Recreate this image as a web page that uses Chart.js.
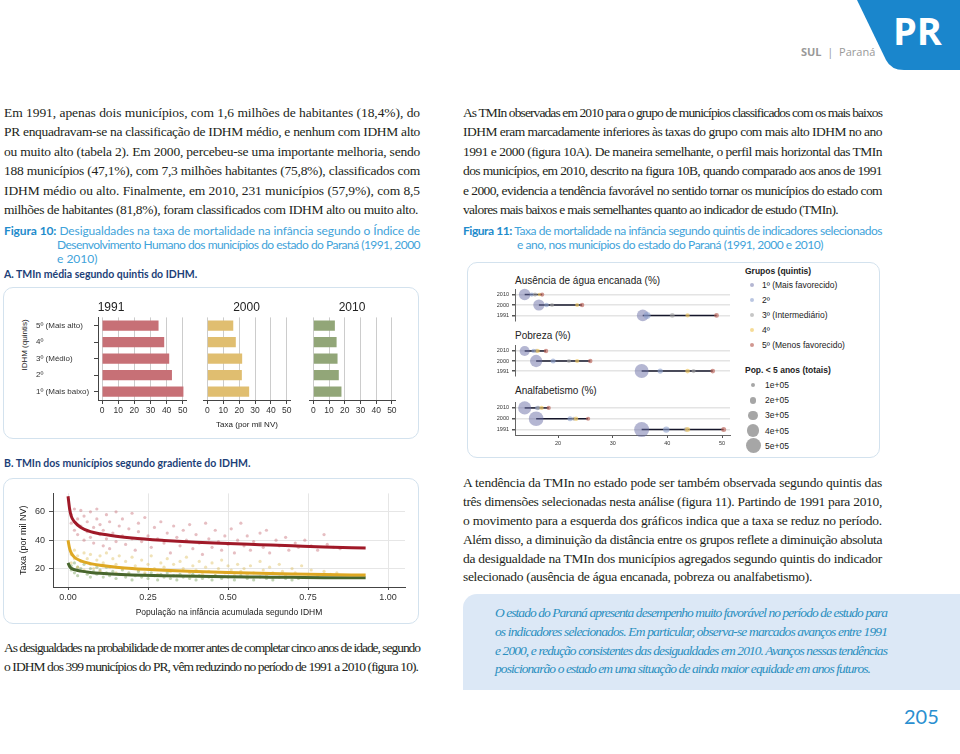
<!DOCTYPE html>
<html lang="pt">
<head>
<meta charset="utf-8">
<title>PR - TMIn</title>
<script src="https://cdn.jsdelivr.net/npm/chart.js@4.4.1/dist/chart.umd.min.js"></script>
<style>
  body { margin:0; width:960px; height:754px; position:relative; overflow:hidden; background:#fff; }
  .abs { position:absolute; }
  .ln { position:absolute; white-space:nowrap; text-align:justify; text-align-last:justify; line-height:18px;
        font-family:'Liberation Serif','DejaVu Serif',serif; font-size:13.5px; color:#231f20; }
  .ln.left { text-align-last:left; }
  .cap { font-family:Lato,'Noto Sans',sans-serif; font-size:12px; color:#3fa3da; line-height:14px; }
  .cap b { color:#1f8ccc; }
  .it { font-style:italic; color:#2a8fc0; }
  .sub { position:absolute; font-family:Lato,sans-serif; font-weight:bold; font-size:10.5px; color:#1d3f78; white-space:nowrap; }
  .box { position:absolute; border:1.5px solid #d3e2ee; border-radius:10px; box-sizing:border-box; }
  .lbl { position:absolute; font-family:'Liberation Sans',Arial,sans-serif; color:#222; white-space:nowrap; line-height:12px; }
  canvas { position:absolute; }
  .dot { position:absolute; border-radius:50%; }
</style>
</head>
<body>

<!-- cabeçalho -->
<svg class="abs" style="left:0;top:0" width="960" height="80">
  <path d="M857,0 L960,0 L960,70 L904,70 Q891,70 886,60 Z" fill="#1a86cc"/>
</svg>
<div class="abs" style="left:893px;top:11px;font-family:'Open Sans',sans-serif;font-weight:bold;font-size:38px;line-height:38px;color:#fff">PR</div>
<div class="abs" style="left:801px;top:45px;font-family:'Open Sans',sans-serif;font-size:11px;line-height:14px;color:#999"><b>SUL</b> &nbsp;|&nbsp; Paraná</div>

<!-- texto esquerda -->
<div class="ln" style="left:4px;top:104px;width:416px">Em 1991, apenas dois municípios, com 1,6 milhões de habitantes (18,4%), do</div>
<div class="ln" style="left:4px;top:123px;width:416px">PR enquadravam-se na classificação de IDHM médio, e nenhum com IDHM alto</div>
<div class="ln" style="left:4px;top:143px;width:416px">ou muito alto (tabela 2). Em 2000, percebeu-se uma importante melhoria, sendo</div>
<div class="ln" style="left:4px;top:162px;width:416px">188 municípios (47,1%), com 7,3 milhões habitantes (75,8%), classificados com</div>
<div class="ln" style="left:4px;top:182px;width:416px">IDHM médio ou alto. Finalmente, em 2010, 231 municípios (57,9%), com 8,5</div>
<div class="ln" style="left:4px;top:201px;width:414px">milhões de habitantes (81,8%), foram classificados com IDHM alto ou muito alto.</div>

<!-- texto direita -->
<div class="ln" style="left:463px;top:104px;width:419px">As TMIn observadas em 2010 para o grupo de municípios classificados com os mais baixos</div>
<div class="ln" style="left:463px;top:123px;width:419px">IDHM eram marcadamente inferiores às taxas do grupo com mais alto IDHM no ano</div>
<div class="ln" style="left:463px;top:143px;width:419px">1991 e 2000 (figura 10A). De maneira semelhante, o perfil mais horizontal das TMIn</div>
<div class="ln" style="left:463px;top:162px;width:419px">dos municípios, em 2010, descrito na figura 10B, quando comparado aos anos de 1991</div>
<div class="ln" style="left:463px;top:182px;width:419px">e 2000, evidencia a tendência favorável no sentido tornar os municípios do estado com</div>
<div class="ln" style="left:463px;top:201px;width:375px">valores mais baixos e mais semelhantes quanto ao indicador de estudo (TMIn).</div>

<!-- legenda figura 10 -->
<div class="ln cap" style="left:4px;top:224px;width:416px"><b>Figura 10:</b> Desigualdades na taxa de mortalidade na infância segundo o Índice de</div>
<div class="ln cap" style="left:57px;top:238px;width:363px">Desenvolvimento Humano dos municípios do estado do Paraná (1991, 2000</div>
<div class="ln cap left" style="left:57px;top:252px;width:60px">e 2010)</div>
<div class="sub" style="left:4px;top:268px">A. TMIn média segundo quintis do IDHM.</div>

<div class="box" style="left:3px;top:287px;width:416px;height:152px"></div>
<div class="lbl" style="left:-5px;top:339px;width:60px;text-align:center;font-size:8px;transform:rotate(-90deg)">IDHM (quintis)</div>
<canvas id="bar1991" width="158" height="124" style="left:36px;top:296px"></canvas>
<canvas id="bar2000" width="95" height="124" style="left:203px;top:296px"></canvas>
<canvas id="bar2010" width="94" height="124" style="left:309px;top:296px"></canvas>
<div class="lbl" style="left:187px;top:419px;width:120px;text-align:center;font-size:8px">Taxa (por mil NV)</div>

<div class="sub" style="left:4px;top:457px">B. TMIn dos municípios segundo gradiente do IDHM.</div>
<div class="box" style="left:3px;top:478px;width:416px;height:146px"></div>
<canvas id="gradiente" width="403" height="138" style="left:10px;top:484px"></canvas>

<!-- texto inferior esquerda -->
<div class="ln" style="left:4px;top:639px;width:416px">As desigualdades na probabilidade de morrer antes de completar cinco anos de idade, segundo</div>
<div class="ln" style="left:4px;top:658px;width:414px">o IDHM dos 399 municípios do PR, vêm reduzindo no período de 1991 a 2010 (figura 10).</div>

<!-- legenda figura 11 -->
<div class="ln cap" style="left:463px;top:224px;width:419px"><b>Figura 11:</b> Taxa de mortalidade na infância segundo quintis de indicadores selecionados</div>
<div class="ln cap" style="left:517px;top:238px;width:306px">e ano, nos municípios do estado do Paraná (1991, 2000 e 2010)</div>

<div class="box" style="left:467px;top:262px;width:413px;height:196px"></div>
<div class="lbl" style="left:515px;top:275px;font-size:10px">Ausência de água encanada (%)</div>
<div class="lbl" style="left:515px;top:330px;font-size:10px">Pobreza (%)</div>
<div class="lbl" style="left:515px;top:385px;font-size:10px">Analfabetismo (%)</div>
<canvas id="agua" width="258" height="44" style="left:480px;top:283px"></canvas>
<canvas id="pobreza" width="258" height="44" style="left:480px;top:339px"></canvas>
<canvas id="analf" width="258" height="56" style="left:480px;top:395px"></canvas>
<div id="legenda11"></div>

<!-- texto inferior direita -->
<div class="ln" style="left:463px;top:474px;width:419px">A tendência da TMIn no estado pode ser também observada segundo quintis das</div>
<div class="ln" style="left:463px;top:493px;width:419px">três dimensões selecionadas nesta análise (figura 11). Partindo de 1991 para 2010,</div>
<div class="ln" style="left:463px;top:512px;width:419px">o movimento para a esquerda dos gráficos indica que a taxa se reduz no período.</div>
<div class="ln" style="left:463px;top:531px;width:419px">Além disso, a diminuição da distância entre os grupos reflete a diminuição absoluta</div>
<div class="ln" style="left:463px;top:550px;width:419px">da desigualdade na TMIn dos municípios agregados segundo quintis do indicador</div>
<div class="ln" style="left:463px;top:568px;width:349px">selecionado (ausência de água encanada, pobreza ou analfabetismo).</div>

<div class="abs" style="left:463px;top:594px;width:497px;height:96px;background:#dce8f6;border-top-left-radius:14px"></div>
<div class="ln it" style="left:495px;top:604px;width:392px">O estado do Paraná apresenta desempenho muito favorável no período de estudo para</div>
<div class="ln it" style="left:495px;top:623px;width:392px">os indicadores selecionados. Em particular, observa-se marcados avanços entre 1991</div>
<div class="ln it" style="left:495px;top:642px;width:392px">e 2000, e redução consistentes das desigualdades em 2010. Avanços nessas tendências</div>
<div class="ln it" style="left:495px;top:660px;width:375px">posicionarão o estado em uma situação de ainda maior equidade em anos futuros.</div>

<div class="abs" style="left:904px;top:704px;font-family:Lato,sans-serif;font-size:20px;line-height:24px;color:#2a8fd0">205</div>

<script>
// ---- Figura 10A: TMIn media segundo quintis do IDHM
var quintis = ['5º (Mais alto)', '4º', '3º (Médio)', '2º', '1º (Mais baixo)'];
var taxa1991 = [35.0, 38.5, 41.6, 43.3, 50.4];
var taxa2000 = [16.3, 17.9, 21.9, 21.7, 26.3];
var taxa2010 = [13.7, 14.8, 15.4, 16.2, 17.9];
var barTicks = [0, 10, 20, 30, 40, 50];

// ---- Figura 10B: municipios (amostra) e curvas ajustadas
var pontos1991 = [[0.01,58],[0.01,52],[0.02,47],[0.02,62],[0.03,44],[0.03,55],[0.04,61],[0.04,50],[0.05,40],[0.05,57],
  [0.06,46],[0.06,53],[0.07,60],[0.07,42],[0.08,49],[0.08,38],[0.09,62],[0.09,55],[0.1,44],[0.1,51],[0.11,36],[0.11,47],
  [0.12,58],[0.12,41],[0.13,53],[0.13,34],[0.14,45],[0.15,60],[0.15,39],[0.16,50],[0.17,43],[0.17,55],[0.18,37],[0.19,48],
  [0.2,59],[0.2,41],[0.21,33],[0.22,52],[0.22,46],[0.23,39],[0.24,56],[0.25,43],[0.26,35],[0.27,49],[0.28,41],[0.29,53],
  [0.3,38],[0.31,45],[0.32,31],[0.33,50],[0.34,42],[0.35,36],[0.36,47],[0.37,40],[0.38,51],[0.39,34],[0.4,44],[0.41,38],
  [0.42,30],[0.43,52],[0.44,41],[0.45,35],[0.46,47],[0.47,39],[0.48,33],[0.49,43],[0.5,37],[0.51,48],[0.52,31],[0.53,40],
  [0.54,52],[0.55,36],[0.56,43],[0.57,33],[0.58,39],[0.6,45],[0.61,35],[0.62,47],[0.63,31],[0.65,40],[0.66,36],[0.68,42],
  [0.69,33],[0.71,38],[0.72,35],[0.74,40],[0.76,36],[0.78,33],[0.8,44],[0.81,37],[0.83,35],[0.85,34]];
var pontos2000 = [[0.01,30],[0.01,24],[0.02,33],[0.02,27],[0.03,21],[0.03,29],[0.04,25],[0.05,31],[0.05,19],[0.06,27],
  [0.07,23],[0.07,30],[0.08,20],[0.09,26],[0.1,29],[0.1,18],[0.11,24],[0.12,31],[0.13,21],[0.14,27],[0.15,17],[0.15,23],
  [0.16,29],[0.17,20],[0.18,25],[0.19,16],[0.2,28],[0.21,22],[0.22,19],[0.23,26],[0.24,17],[0.25,23],[0.26,29],[0.27,20],
  [0.28,16],[0.29,24],[0.3,21],[0.31,27],[0.32,18],[0.33,23],[0.34,15],[0.35,25],[0.36,20],[0.37,28],[0.38,17],[0.39,22],
  [0.4,19],[0.41,25],[0.42,16],[0.43,21],[0.44,18],[0.45,24],[0.46,15],[0.47,20],[0.48,26],[0.49,17],[0.5,22],[0.51,19],
  [0.52,15],[0.53,23],[0.54,18],[0.55,20],[0.56,16],[0.57,22],[0.58,17],[0.6,25],[0.61,19],[0.62,15],[0.63,21],[0.64,17],
  [0.66,23],[0.67,18],[0.68,15],[0.7,20],[0.71,17],[0.73,22],[0.75,16],[0.76,19],[0.78,15],[0.8,18],[0.82,16],[0.84,17]];
var pontos2010 = [[0.01,22],[0.01,19],[0.02,24],[0.02,17],[0.03,21],[0.03,15],[0.04,20],[0.05,18],[0.05,23],[0.06,16],
  [0.07,20],[0.07,14],[0.08,18],[0.09,21],[0.09,16],[0.1,19],[0.11,14],[0.12,17],[0.12,21],[0.13,15],[0.14,18],[0.15,13],
  [0.16,16],[0.17,19],[0.18,14],[0.19,17],[0.2,12],[0.21,15],[0.22,18],[0.23,14],[0.24,16],[0.25,13],[0.26,17],[0.27,15],
  [0.28,12],[0.29,16],[0.3,14],[0.31,17],[0.32,13],[0.33,15],[0.34,12],[0.35,16],[0.36,14],[0.38,13],[0.39,16],[0.4,12],
  [0.41,15],[0.42,13],[0.44,14],[0.45,12],[0.46,15],[0.48,13],[0.5,14],[0.52,12],[0.54,15],[0.56,13],[0.58,12],[0.6,14],
  [0.62,13],[0.64,12],[0.66,14],[0.68,13],[0.7,12],[0.72,13]];
var curva1991 = [[0,71],[0.005,62],[0.01,57],[0.02,53],[0.04,49],[0.07,46],[0.1,44.5],[0.15,42.8],[0.2,41.5],[0.3,39.8],
  [0.4,38.5],[0.5,37.6],[0.6,36.8],[0.7,36],[0.8,35.2],[0.93,34.5]];
var curva2000 = [[0,40],[0.005,34],[0.01,31],[0.02,28],[0.04,25.5],[0.07,23.5],[0.1,22.3],[0.15,21],[0.2,20],[0.3,18.8],
  [0.4,18],[0.5,17.3],[0.6,16.7],[0.7,16.2],[0.8,15.8],[0.93,15.4]];
var curva2010 = [[0,24],[0.005,21.5],[0.01,20.2],[0.02,19.2],[0.04,18.2],[0.07,17.3],[0.1,16.7],[0.15,16],[0.2,15.5],
  [0.3,14.9],[0.4,14.5],[0.5,14.2],[0.6,14],[0.7,13.8],[0.8,13.6],[0.93,13.5]];
var gradTicksX = [0, 0.25, 0.5, 0.75, 1];
var gradTicksY = [20, 40, 60];

// ---- Figura 11: taxa por quintil (linhas: 2010, 2000, 1991; colunas: 1º..5º)
var anos = ['2010', '2000', '1991'];
var aguaTaxa = [[13.9, 15.2, 15.8, 16.6, 17.1], [16.5, 17.9, 18.9, 23.5, 24.4], [35.5, 36.3, 40.9, 43.7, 49.0]];
var pobrezaTaxa = [[13.9, 15.5, 16.0, 16.3, 17.8], [16.0, 19.1, 22.0, 23.5, 25.9], [35.3, 38.7, 44.8, 43.7, 48.3]];
var analfTaxa = [[13.9, 16.2, 16.4, 17.0, 18.3], [16.0, 22.2, 22.9, 23.3, 25.5], [35.3, 39.8, 43.4, 43.7, 50.3]];
var aguaPop = [[3.7e5, 1e5, 1e5, 0.8e5, 1e5], [3.6e5, 1.2e5, 1e5, 0.9e5, 1.1e5], [3.8e5, 2e5, 1.2e5, 1e5, 1.2e5]];
var pobrezaPop = [[3.2e5, 1e5, 1e5, 1e5, 1.1e5], [4e5, 1.3e5, 1e5, 1e5, 1.1e5], [4.6e5, 1.4e5, 1e5, 1.2e5, 1.2e5]];
var analfPop = [[4.3e5, 1.1e5, 1e5, 1e5, 1e5], [4.9e5, 1.3e5, 1e5, 1.1e5, 1e5], [5e5, 1.8e5, 1.1e5, 1.3e5, 1.3e5]];
var grupos = ['1º (Mais favorecido)', '2º', '3º (Intermediário)', '4º', '5º (Menos favorecido)'];
var popLegenda = [1e5, 2e5, 3e5, 4e5, 5e5];
var popLabels = ['1e+05', '2e+05', '3e+05', '4e+05', '5e+05'];
var dotTicks = [20, 30, 40, 50];

var qColors = ['rgba(105,110,165,0.5)', 'rgba(140,160,205,0.6)', 'rgba(160,160,160,0.6)',
               'rgba(240,200,95,0.65)', 'rgba(185,95,85,0.65)'];

// ajusta cada linha justificada a sua largura
function fitLines() {
  var els = document.querySelectorAll('.ln');
  for (var i = 0; i < els.length; i++) {
    var el = els[i];
    el.style.letterSpacing = '';
    var over = el.scrollWidth - el.clientWidth;
    if (over > 0) el.style.letterSpacing = (-(over + 1) / el.textContent.length) + 'px';
  }
}
fitLines();

Chart.defaults.font.family = "'Liberation Sans', Arial, sans-serif";
Chart.defaults.color = '#333';
Chart.defaults.animation = false;
Chart.defaults.plugins.legend.display = false;
Chart.defaults.plugins.tooltip.enabled = false;

function fixTicks(values) {
  return function(scale) {
    scale.ticks = values.map(function(v){ return {value: v}; });
  };
}
function toXY(arr) {
  return arr.map(function(p){ return {x: p[0], y: p[1]}; });
}

function barPanel(id, year, values, color, showY) {
  return new Chart(document.getElementById(id), {
    type: 'bar',
    data: {
      labels: quintis,
      datasets: [{ data: values, backgroundColor: color, borderWidth: 0, barPercentage: 0.62, categoryPercentage: 1 }]
    },
    options: {
      indexAxis: 'y',
      responsive: false,
      layout: { padding: { left: 0, right: 8, top: 2, bottom: 0 } },
      plugins: {
        title: { display: true, text: year, font: { size: 12, weight: 'normal' }, color: '#222', padding: { top: 2, bottom: 3 } }
      },
      scales: {
        x: {
          min: -2.5, max: 52,
          afterBuildTicks: fixTicks(barTicks),
          afterFit: function(s){ s.height = 20; },
          grid: { color: '#cccccc', tickColor: '#444', tickLength: 4 },
          border: { color: '#444' },
          ticks: { font: { size: 8.5 }, padding: 2, color: '#333', maxRotation: 0 }
        },
        y: {
          display: showY,
          afterFit: function(s){ if (showY) s.width = 62; },
          grid: { offset: false, drawOnChartArea: false, tickLength: 4, tickColor: '#444' },
          border: { color: '#444' },
          ticks: { crossAlign: 'far', font: { size: 8 }, padding: 3, color: '#333' }
        }
      }
    }
  });
}

barPanel('bar1991', '1991', taxa1991, 'rgb(199,112,118)', true);
barPanel('bar2000', '2000', taxa2000, 'rgb(224,190,112)', false);
barPanel('bar2010', '2010', taxa2010, 'rgb(146,166,120)', false);

// Figura 10B
new Chart(document.getElementById('gradiente'), {
  type: 'scatter',
  data: {
    datasets: [
      { data: toXY(curva1991), showLine: true, borderColor: 'rgb(160,25,40)', borderWidth: 3, pointRadius: 0,
        cubicInterpolationMode: 'monotone', order: 1 },
      { data: toXY(curva2000), showLine: true, borderColor: 'rgb(222,168,35)', borderWidth: 3, pointRadius: 0,
        cubicInterpolationMode: 'monotone', order: 1 },
      { data: toXY(curva2010), showLine: true, borderColor: 'rgb(72,102,45)', borderWidth: 3, pointRadius: 0,
        cubicInterpolationMode: 'monotone', order: 1 },
      { data: toXY(pontos1991), pointRadius: 1.6, borderWidth: 0, backgroundColor: 'rgba(200,110,120,0.45)', order: 5 },
      { data: toXY(pontos2000), pointRadius: 1.6, borderWidth: 0, backgroundColor: 'rgba(222,190,95,0.45)', order: 5 },
      { data: toXY(pontos2010), pointRadius: 1.6, borderWidth: 0, backgroundColor: 'rgba(120,160,90,0.45)', order: 5 }
    ]
  },
  options: {
    responsive: false,
    layout: { padding: { left: 0, right: 8, top: 6, bottom: 0 } },
    scales: {
      x: {
        type: 'linear', min: -0.047, max: 1.053,
        afterBuildTicks: fixTicks(gradTicksX),
        afterFit: function(s){ s.height = 35; },
        grid: { color: '#e6e6e6', tickColor: '#555', tickLength: 3 },
        border: { color: '#444' },
        ticks: { font: { size: 9 }, padding: 2, maxRotation: 0, callback: function(v){ return v.toFixed(2); } },
        title: { display: true, text: 'População na infância acumulada segundo IDHM', font: { size: 8.5 },
                 color: '#222', padding: { top: 0, bottom: 4 } }
      },
      y: {
        min: 7, max: 73,
        afterBuildTicks: fixTicks(gradTicksY),
        afterFit: function(s){ s.width = 43; },
        grid: { color: '#e6e6e6', tickColor: '#555', tickLength: 4 },
        border: { color: '#444' },
        ticks: { font: { size: 9 }, padding: 4 },
        title: { display: true, text: 'Taxa (por mil NV)', font: { size: 9 }, color: '#222', padding: { top: 8, bottom: 0 } }
      }
    }
  }
});

// Figura 11
function raio(pop) {
  return (1.5 + 2.7 * pop / 1e5) / 2;
}

function dotPanel(id, taxas, pops, showX) {
  var ds = [];
  // segmento do 1º ao 5º quintil
  taxas.forEach(function(row, i){
    ds.push({ data: [{x: row[0], y: anos[i]}, {x: row[4], y: anos[i]}], showLine: true,
              borderColor: '#15162a', borderWidth: 1.5, pointRadius: 0, order: 10, clip: false });
  });
  for (var q = 0; q < 5; q++) {
    ds.push({
      data: taxas.map(function(row, i){ return {x: row[q], y: anos[i]}; }),
      pointRadius: pops.map(function(r){ return raio(r[q]); }),
      backgroundColor: qColors[q], borderWidth: 0, order: 5 - q, clip: false
    });
  }
  return new Chart(document.getElementById(id), {
    type: 'scatter',
    data: { datasets: ds },
    options: {
      responsive: false,
      layout: { padding: { left: 0, right: 8, top: 4, bottom: showX ? 0 : 4 } },
      scales: {
        x: {
          type: 'linear', min: 12.13, max: 51.46, display: showX,
          afterBuildTicks: fixTicks(dotTicks),
          afterFit: function(s){ if (showX) s.height = 16; },
          grid: { drawOnChartArea: false, tickColor: '#555', tickLength: 3 },
          border: { color: '#666' },
          ticks: { font: { size: 5.5 }, padding: 2, maxRotation: 0 }
        },
        y: {
          type: 'category', labels: anos, offset: true,
          afterFit: function(s){ s.width = 35; },
          grid: { offset: false, color: '#e4e4e4', lineWidth: 1.5, tickColor: '#555', tickLength: 3 },
          border: { color: '#666' },
          ticks: { font: { size: 5.5 }, padding: 3, autoSkip: false }
        }
      }
    }
  });
}

dotPanel('agua', aguaTaxa, aguaPop, false);
dotPanel('pobreza', pobrezaTaxa, pobrezaPop, false);
dotPanel('analf', analfTaxa, analfPop, true);

// legenda da figura 11 (grupos e tamanhos)
function legenda() {
  var box = document.getElementById('legenda11');
  var html = '<div class="lbl" style="left:745px;top:265px;font-size:8.5px;font-weight:bold">Grupos (quintis)</div>';
  grupos.forEach(function(g, i){
    var cy = 285 + i * 15;
    html += '<div class="dot" style="left:750px;top:' + (cy - 2) + 'px;width:4px;height:4px;background:' + qColors[i] + '"></div>';
    html += '<div class="lbl" style="left:762px;top:' + (cy - 6) + 'px;font-size:8.5px">' + g + '</div>';
  });
  html += '<div class="lbl" style="left:745px;top:364px;font-size:8.5px;font-weight:bold">Pop. &lt; 5 anos (totais)</div>';
  popLegenda.forEach(function(p, i){
    var cy = 385 + i * 15.2;
    var r = raio(p);
    html += '<div class="dot" style="left:' + (753 - r) + 'px;top:' + (cy - r) + 'px;width:' + (2 * r) + 'px;height:' + (2 * r) +
            'px;background:rgba(150,150,150,0.85)"></div>';
    html += '<div class="lbl" style="left:765px;top:' + (cy - 6) + 'px;font-size:8.5px">' + popLabels[i] + '</div>';
  });
  box.innerHTML = html;
}
legenda();

if (document.fonts && document.fonts.ready) document.fonts.ready.then(fitLines);
</script>
</body>
</html>
